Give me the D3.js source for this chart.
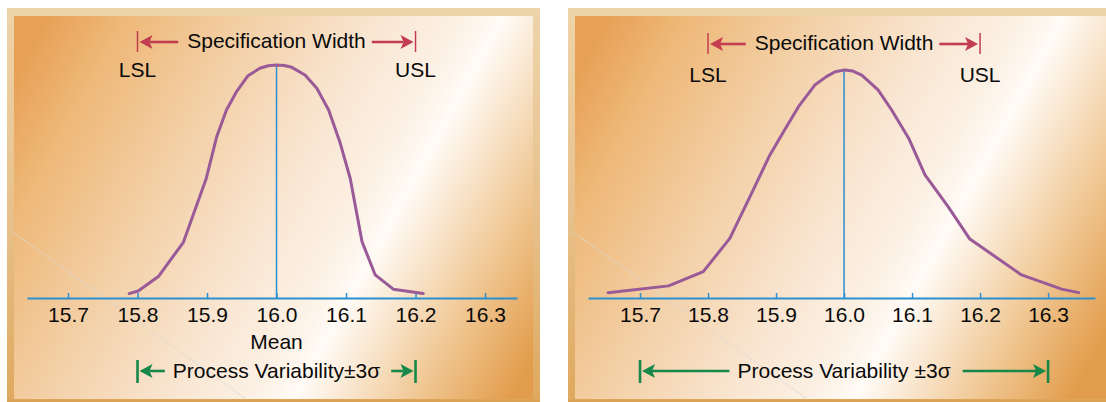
<!DOCTYPE html>
<html>
<head>
<meta charset="utf-8">
<script src="https://cdn.jsdelivr.net/npm/d3@7"></script>
<style>
html,body{margin:0;padding:0;background:#fff;overflow:hidden;}
</style>
</head>
<body>
<div id="chart"></div>
<script>
const WIDTH = 1106;
const HEIGHT = 402;
const FONT = "'Liberation Sans', Arial, Helvetica, sans-serif";
const AXIS_Y = 298;
const PEAK_Y = 65;

const RED = "#c33d50";
const GREEN = "#17874a";
const BLUE = "#2c8fd0";
const PURPLE = "#9a5a98";
const INK = "#0a0a0a";

// data
const TICKS = [15.7, 15.8, 15.9, 16.0, 16.1, 16.2, 16.3];
const SPEC_LIMITS = [15.8, 16.2];
const SPEC_LABELS = ["LSL", "USL"];
const MEAN = 16.0;

// narrow process (left)
const narrowX = [15.788, 15.801, 15.830, 15.866, 15.899, 15.914, 15.928, 15.943, 15.959, 15.976, 15.988, 16.000,
                 16.011, 16.022, 16.041, 16.058, 16.075, 16.091, 16.106, 16.123, 16.142, 16.168, 16.211];
const narrowY = [0.019, 0.030, 0.092, 0.239, 0.514, 0.693, 0.807, 0.888, 0.954, 0.986, 0.997, 1.000,
                 0.998, 0.990, 0.957, 0.900, 0.807, 0.671, 0.514, 0.242, 0.099, 0.038, 0.019];
const narrowSpread = [15.8, 16.2];

// wide process (right)
const wideX = [15.653, 15.742, 15.793, 15.832, 15.864, 15.891, 15.911, 15.933, 15.957, 15.974, 15.987, 16.001,
               16.013, 16.026, 16.050, 16.070, 16.095, 16.119, 16.153, 16.185, 16.222, 16.261, 16.320, 16.345];
const wideY = [0.023, 0.052, 0.113, 0.256, 0.449, 0.614, 0.714, 0.821, 0.914, 0.950, 0.971, 0.979,
               0.974, 0.957, 0.893, 0.807, 0.686, 0.528, 0.392, 0.253, 0.178, 0.099, 0.038, 0.023];
const wideSpread = [15.7, 16.3];

const panels = [
  {id:"narrow", ox:7, ow:533, ix:14, iw:519, domain:[15.641,16.346], range:[27,517],
   xs:narrowX, ys:narrowY, spread:narrowSpread, text:"Process Variability\u00b13\u03c3",
   mean:true, specY:48, limY:77, gapL:8, gapR:11},
  {id:"wide", ox:568, ow:546, ix:575, iw:540, domain:[15.6235,16.369], range:[588,1095],
   xs:wideX, ys:wideY, spread:wideSpread, text:"Process Variability \u00b13\u03c3",
   mean:false, specY:50, limY:82, gapL:8, gapR:12}
];

const svg = d3.select("#chart")
  .append("svg")
  .attr("width", WIDTH)
  .attr("height", HEIGHT)
  .attr("font-family", FONT);

const defs = svg.append("defs");

const frameGrad = defs.append("linearGradient")
  .attr("id", "frameGrad")
  .attr("x1", 0).attr("y1", 0).attr("x2", 0).attr("y2", 1);
[[0,"#eed4aa"],[0.5,"#e7c18d"],[0.97,"#dfa95f"],[1,"#d6913a"]].forEach(s =>
  frameGrad.append("stop").attr("offset", s[0]).attr("stop-color", s[1]));

const bgStops = [[0,"#e7a055"],[0.12,"#eeb878"],[0.3,"#f3cfa5"],[0.5,"#f9e6d2"],
                 [0.62,"#fcf1e5"],[0.68,"#fffbf6"],[0.74,"#faead6"],[0.86,"#f0c793"],[1,"#e29d4c"]];

function arrow(g, tail, tip, yy, color){
  const dir = tip > tail ? 1 : -1;
  const L = 13, W = 7, N = 3;
  g.append("line")
    .attr("x1", tail).attr("x2", tip - dir*(L-N))
    .attr("y1", yy).attr("y2", yy)
    .attr("stroke", color).attr("stroke-width", 2.6);
  g.append("path")
    .attr("d", `M${tip},${yy}L${tip-dir*L},${yy-W}L${tip-dir*(L-N)},${yy}L${tip-dir*L},${yy+W}Z`)
    .attr("fill", color);
}

panels.forEach(p => {
  const g = svg.append("g").attr("class", "panel-" + p.id);

  const grad = defs.append("linearGradient")
    .attr("id", "bg-" + p.id)
    .attr("gradientUnits", "userSpaceOnUse")
    .attr("x1", p.ix + 6).attr("y1", 60)
    .attr("x2", p.ix + 526).attr("y2", 345);
  bgStops.forEach(s => grad.append("stop").attr("offset", s[0]).attr("stop-color", s[1]));

  g.append("rect")
    .attr("x", p.ox).attr("y", 8)
    .attr("width", p.ow).attr("height", HEIGHT)
    .attr("fill", "url(#frameGrad)");
  g.append("rect")
    .attr("x", p.ix).attr("y", 16)
    .attr("width", p.iw).attr("height", 383)
    .attr("fill", `url(#bg-${p.id})`);

  // faint scan streak
  g.append("line")
    .attr("x1", p.ix).attr("y1", 233)
    .attr("x2", p.ix + 232).attr("y2", 399)
    .attr("stroke", "#dcd9d5").attr("stroke-width", 1.2)
    .attr("stroke-dasharray", "2 1").attr("opacity", 0.75);

  const x = d3.scaleLinear().domain(p.domain).range(p.range);
  const y = d3.scaleLinear().domain([0, 1]).range([AXIS_Y, PEAK_Y]);

  // axis
  const axis = d3.axisBottom(x)
    .tickValues(TICKS)
    .tickFormat(d3.format(".1f"))
    .tickSizeInner(-5)
    .tickSizeOuter(0)
    .tickPadding(9);
  const ax = g.append("g")
    .attr("transform", `translate(0,${AXIS_Y})`)
    .call(axis)
    .attr("font-family", FONT)
    .attr("font-size", 21);
  ax.select(".domain").attr("stroke", BLUE).attr("stroke-width", 2);
  ax.selectAll(".tick line").attr("stroke", BLUE).attr("stroke-width", 1.5);
  ax.selectAll(".tick text").attr("fill", INK);

  // mean line
  g.append("line")
    .attr("x1", x(MEAN)).attr("x2", x(MEAN))
    .attr("y1", y(d3.max(p.ys))).attr("y2", AXIS_Y)
    .attr("stroke", BLUE).attr("stroke-width", 1.5);

  // distribution curve
  const pts = p.xs.map((v, i) => [v, p.ys[i]]);
  const line = d3.line().x(d => x(d[0])).y(d => y(d[1]));
  g.append("path")
    .datum(pts)
    .attr("d", line)
    .attr("fill", "none")
    .attr("stroke", PURPLE)
    .attr("stroke-width", 3)
    .attr("stroke-linejoin", "round")
    .attr("stroke-linecap", "round");

  // specification limits
  SPEC_LIMITS.forEach((v, i) => {
    g.append("line")
      .attr("x1", x(v)).attr("x2", x(v))
      .attr("y1", p.specY - 17).attr("y2", p.specY + 4)
      .attr("stroke", RED).attr("stroke-width", 1.5);
    g.append("text")
      .attr("x", x(v)).attr("y", p.limY)
      .attr("text-anchor", "middle")
      .attr("font-size", 21).attr("fill", INK)
      .text(SPEC_LABELS[i]);
  });
  const specMid = (x(SPEC_LIMITS[0]) + x(SPEC_LIMITS[1])) / 2;
  const specText = g.append("text")
    .attr("x", specMid).attr("y", p.specY)
    .attr("text-anchor", "middle")
    .attr("font-size", 21).attr("fill", INK)
    .text("Specification Width");
  const sw = specText.node().getComputedTextLength();
  arrow(g, specMid - sw/2 - 9, x(SPEC_LIMITS[0]) + 2, p.specY - 6, RED);
  arrow(g, specMid + sw/2 + 6, x(SPEC_LIMITS[1]) - 2, p.specY - 6, RED);

  if (p.mean) {
    g.append("text")
      .attr("x", x(MEAN)).attr("y", 349)
      .attr("text-anchor", "middle")
      .attr("font-size", 21).attr("fill", INK)
      .text("Mean");
  }

  // process variability
  p.spread.forEach(v => {
    g.append("line")
      .attr("x1", x(v)).attr("x2", x(v))
      .attr("y1", 360).attr("y2", 383)
      .attr("stroke", GREEN).attr("stroke-width", 2.6);
  });
  const procMid = (x(p.spread[0]) + x(p.spread[1])) / 2;
  const procText = g.append("text")
    .attr("x", procMid).attr("y", 378)
    .attr("text-anchor", "middle")
    .attr("font-size", 21).attr("fill", INK)
    .text(p.text);
  const pw = procText.node().getComputedTextLength();
  arrow(g, procMid - pw/2 - p.gapL, x(p.spread[0]) + 2, 371, GREEN);
  arrow(g, procMid + pw/2 + p.gapR, x(p.spread[1]) - 2, 371, GREEN);
});
</script>
</body>
</html>
